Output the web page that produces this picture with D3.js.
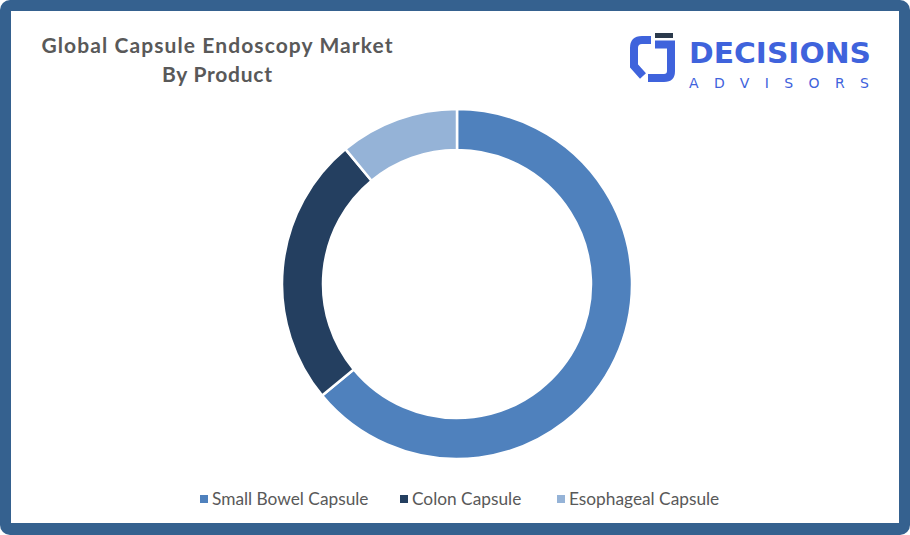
<!DOCTYPE html>
<html><head><meta charset="utf-8">
<script src="https://cdn.jsdelivr.net/npm/d3@7"></script>
<style>html,body{margin:0;padding:0;background:#fff;}svg{display:block;}</style>
</head><body>
<svg id="chart" width="910" height="535"></svg>
<script>
const categories = ["Small Bowel Capsule", "Colon Capsule", "Esophageal Capsule"];
const values = [64, 25, 11];
const colors = ["#4f81bd", "#243f60", "#95b3d7"];
const titleLines = ["Global Capsule Endoscopy Market", "By Product"];

const svg = d3.select("#chart");
// frame
svg.append("rect").attr("x", 0).attr("y", 0).attr("width", 910).attr("height", 535)
  .attr("rx", 10).attr("fill", "#35618f");
svg.append("rect").attr("x", 11).attr("y", 11).attr("width", 888).attr("height", 512)
  .attr("fill", "#ffffff");

// title
const titleWidths = [351, 110];
svg.append("g").selectAll("text").data(titleLines).join("text")
  .attr("x", 217).attr("y", (d, i) => 53 + i * 29)
  .attr("text-anchor", "middle")
  .attr("font-family", "Lato, 'Open Sans', sans-serif")
  .attr("font-weight", "bold").attr("font-size", 21)
  .attr("textLength", (d, i) => titleWidths[i])
  .attr("lengthAdjust", "spacing")
  .attr("fill", "#595959").text(d => d);

// logo
const logo = svg.append("g");
const blue = "#3f63dc";
logo.append("path").attr("d", "M651,40 L642,40 Q634,40 634,48 L634,66 L643,76")
  .attr("fill", "none").attr("stroke", blue).attr("stroke-width", 8);
logo.append("path").attr("d", "M655,44.5 L671,44.5 L671,71 Q671,78 664,78 L648,78")
  .attr("fill", "none").attr("stroke", blue).attr("stroke-width", 8);
logo.append("rect").attr("x", 655).attr("y", 33).attr("width", 18).attr("height", 5).attr("fill", "#2b3a4c");
logo.append("text").attr("x", 689).attr("y", 63)
  .attr("font-family", "'DejaVu Sans', sans-serif").attr("font-weight", "bold").attr("font-size", 28)
  .attr("textLength", 182).attr("lengthAdjust", "spacingAndGlyphs")
  .attr("fill", blue).text("DECISIONS");
logo.append("text").attr("x", 689).attr("y", 88)
  .attr("font-family", "'DejaVu Sans', sans-serif").attr("font-size", 14)
  .attr("textLength", 180).attr("lengthAdjust", "spacing")
  .attr("fill", blue).text("ADVISORS");

// donut
const cx = 457, cy = 284, rOuter = 175, rInner = 134;
const pie = d3.pie().sort(null).value(d => d)(values);
const arc = d3.arc().innerRadius(rInner).outerRadius(rOuter);
svg.append("g").attr("transform", `translate(${cx},${cy})`)
  .selectAll("path").data(pie).join("path")
  .attr("d", arc).attr("fill", (d, i) => colors[i])
  .attr("stroke", "#ffffff").attr("stroke-width", 2.5);

// legend
const legendX = [200, 400, 557];
const lg = svg.append("g").selectAll("g").data(categories).join("g")
  .attr("transform", (d, i) => `translate(${legendX[i]},499)`);
lg.append("rect").attr("x", 0).attr("y", -4).attr("width", 8).attr("height", 8)
  .attr("fill", (d, i) => colors[i]);
lg.append("text").attr("x", 12).attr("y", 6)
  .attr("font-family", "Lato, 'Open Sans', sans-serif").attr("font-size", 17.3)
  .attr("fill", "#595959").text(d => d);
</script>
</body></html>
